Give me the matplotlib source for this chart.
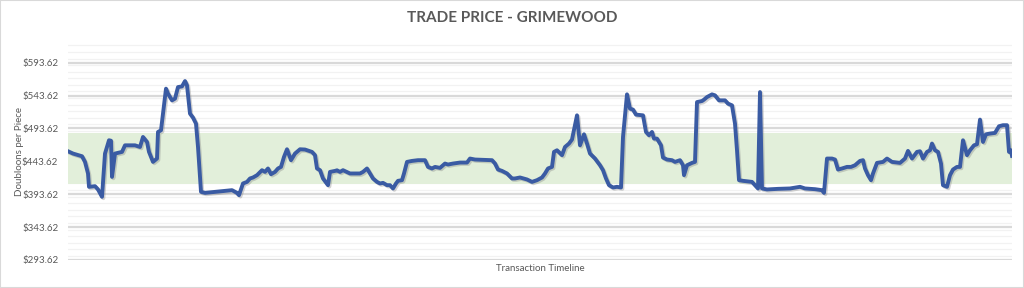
import matplotlib.pyplot as plt
import matplotlib.patheffects as pe
from matplotlib.patches import Rectangle
from matplotlib.ticker import MultipleLocator, FuncFormatter

# Data (transaction number, price)
transactions = [
    0, 5, 14, 17, 20, 21, 27, 30, 34, 37, 41, 43, 44, 47, 54, 57, 67, 72, 75, 79,
    81, 85, 89, 90, 93, 95, 98, 100, 104, 107, 110, 114, 117, 119, 122, 125, 128, 130, 133, 137,
    164, 169, 171, 175, 179, 182, 185, 189, 194, 197, 200, 203, 207, 210, 213, 216, 219, 223, 227, 232,
    237, 244, 247, 249, 252, 255, 260, 262, 267, 269, 272, 275, 282, 292, 295, 299, 302, 305, 309, 312,
    315, 319, 322, 325, 328, 330, 334, 336, 339, 344, 350, 357, 360, 364, 367, 372, 377, 380, 385, 392,
    399, 402, 407, 424, 427, 430, 434, 439, 444, 447, 452, 459, 464, 469, 474, 477, 480, 484, 486, 489,
    494, 497, 501, 504, 509, 512, 516, 519, 522, 527, 532, 535, 538, 541, 545, 549, 553, 555, 559, 562,
    565, 568, 575, 578, 581, 584, 586, 589, 593, 595, 599, 604, 607, 612, 615, 616, 619, 624, 627, 629,
    634, 636, 639, 644, 647, 651, 657, 660, 664, 667, 669, 671, 675, 684, 687, 690, 692, 694, 699, 710,
    722, 732, 737, 747, 754, 756, 759, 764, 767, 770, 774, 779, 783, 787, 792, 795, 797, 800, 803, 805,
    809, 815, 819, 824, 832, 837, 840, 844, 849, 852, 855, 859, 862, 864, 867, 870, 873, 875, 879, 882,
    885, 889, 892, 895, 899, 902, 906, 909, 912, 915, 918, 922, 927, 931, 935, 939, 941, 943, 944,
]
prices = [
    459.0, 455.5, 451.4, 442.8, 425.2, 404.9, 405.9, 400.9, 389.7, 455.5, 475.7, 475.0, 420.0, 455.5, 458.0, 468.0, 468.0, 465.5, 480.7, 473.1,
    458.0, 442.8, 447.9, 488.3, 490.9, 516.2, 554.2, 546.6, 536.4, 539.0, 556.6, 557.6, 565.7, 559.2, 516.2, 510.1, 501.0, 465.5, 397.3, 395.7,
    399.8, 395.7, 392.2, 410.0, 412.4, 417.6, 419.1, 422.6, 430.2, 427.6, 432.8, 424.1, 427.6, 432.8, 435.2, 450.4, 462.0, 445.4, 455.5, 462.0,
    461.6, 458.0, 453.0, 432.8, 430.2, 417.6, 407.4, 427.6, 429.1, 430.0, 427.6, 430.2, 425.2, 425.2, 427.6, 432.8, 425.2, 417.6, 412.4, 410.0,
    410.9, 407.4, 407.4, 402.4, 410.0, 414.0, 415.0, 425.2, 442.8, 444.3, 445.4, 445.4, 435.2, 432.8, 435.2, 433.7, 440.3, 438.8, 440.3, 441.8,
    441.8, 447.9, 446.4, 445.4, 440.3, 431.2, 429.1, 425.2, 417.6, 417.6, 419.1, 416.1, 412.4, 415.0, 419.1, 425.2, 432.8, 435.2, 458.0, 460.5,
    453.0, 465.5, 470.7, 476.8, 513.6, 468.0, 484.8, 470.7, 455.5, 447.9, 437.7, 430.2, 417.6, 407.4, 403.9, 404.9, 403.9, 480.7, 545.5, 523.8,
    522.3, 514.7, 513.6, 488.3, 483.3, 488.3, 478.2, 478.2, 468.1, 449.4, 446.4, 445.4, 442.8, 445.4, 437.7, 422.6, 437.7, 441.3, 442.8, 533.8,
    535.4, 537.5, 541.4, 545.5, 544.0, 536.4, 536.4, 531.4, 528.8, 501.0, 460.5, 415.0, 414.0, 412.4, 407.4, 402.4, 549.0, 402.4, 400.9, 401.8,
    402.4, 404.9, 402.4, 401.3, 399.8, 395.7, 447.9, 447.9, 446.4, 431.2, 432.8, 435.2, 435.2, 437.7, 444.3, 445.4, 432.8, 422.6, 415.0, 425.2,
    441.3, 442.8, 447.9, 442.8, 441.3, 447.9, 459.5, 447.9, 458.0, 459.0, 447.9, 458.0, 460.5, 470.7, 460.5, 458.0, 440.3, 407.4, 404.9, 422.6,
    431.2, 435.2, 435.2, 475.7, 453.0, 460.5, 468.0, 469.6, 507.1, 473.1, 484.8, 485.9, 486.9, 497.0, 498.6, 498.6, 458.0, 460.5, 452.0,
]

band_low = 408.62
band_high = 486.0
y_min = 293.62
y_max = 623.62

fig = plt.figure(figsize=(10.24, 2.88), dpi=100)
ax = fig.add_axes([68 / 1024, 28 / 288, 944 / 1024, 217 / 288])

ax.axhspan(band_low, band_high, color="#E2EFDA", zorder=1, lw=0)
ax.plot(transactions, prices, color="#3A5BA3", lw=2.8, zorder=3,
        solid_joinstyle="round",
        path_effects=[pe.SimpleLineShadow(offset=(1, -1), shadow_color="gray", alpha=0.35),
                      pe.Normal()])

ax.set_xlim(0, transactions[-1])
ax.set_ylim(y_min, y_max)
ax.yaxis.set_major_locator(MultipleLocator(50))
ax.yaxis.set_minor_locator(MultipleLocator(10))
ax.set_yticks([y_min + 50 * k for k in range(7)])
ax.yaxis.set_major_formatter(FuncFormatter(lambda v, p: f"${v:.2f}"))
ax.grid(which="major", axis="y", color="#D9D9D9", lw=1.6, zorder=0)
ax.grid(which="minor", axis="y", color="#F2F2F2", lw=0.9, zorder=0)
ax.set_axisbelow(True)
ax.set_xticks([])
for s in ax.spines.values():
    s.set_visible(False)
ax.tick_params(axis="y", which="both", length=0, pad=7, labelsize=7, labelcolor="#595959")
for lbl in ax.get_yticklabels():
    lbl.set_family("Lato")

ax.set_xlabel("Transaction Timeline", fontsize=7, color="#595959", family="Lato", labelpad=3)
fig.text(20 / 1024, 1 - 151 / 288, "Doubloons per Piece", rotation=90, fontsize=7,
         color="#595959", family="Lato", ha="center", va="center")
fig.text(512 / 1024, 1 - 18 / 288, "TRADE PRICE - GRIMEWOOD", fontsize=11, fontweight="bold",
         color="#595959", family="Lato", ha="center", va="center")

fig.patches.append(Rectangle((0, 0), 1, 1, transform=fig.transFigure, fill=False,
                             edgecolor="#D9D9D9", lw=1.5))

fig.savefig("out.png", dpi=100)
